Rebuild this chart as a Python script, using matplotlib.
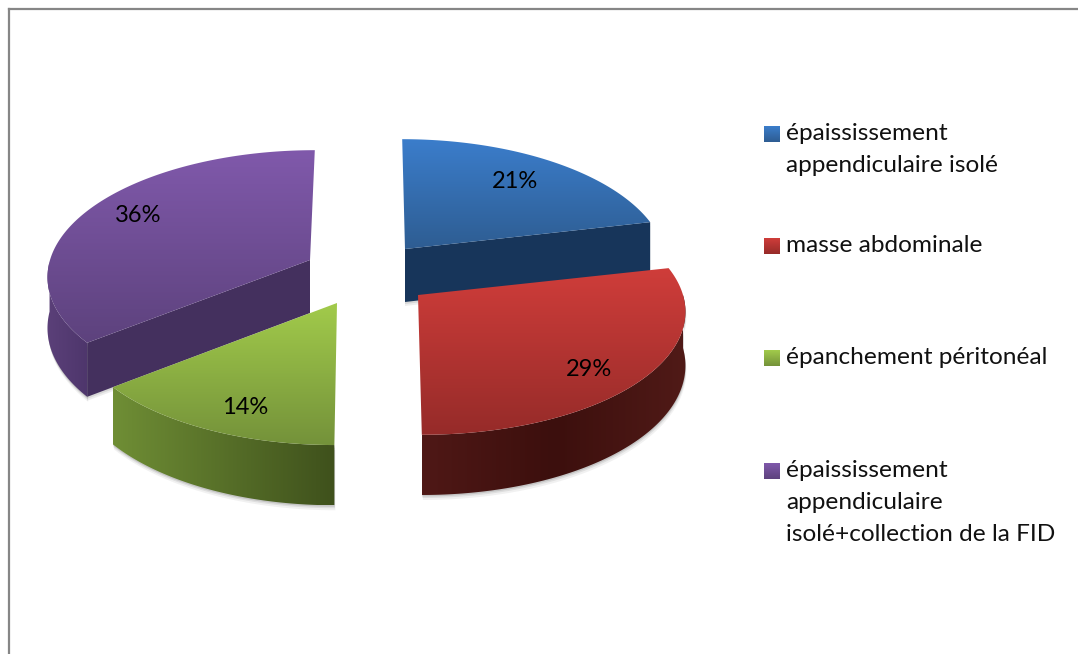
import numpy as np
import matplotlib
matplotlib.use("Agg")
import matplotlib.pyplot as plt
from matplotlib.colors import LinearSegmentedColormap
from matplotlib.patches import Polygon

# data
labels = ["épaississement\nappendiculaire isolé", "masse abdominale",
          "épanchement péritonéal", "épaississement\nappendiculaire\nisolé+collection de la FID"]
values = [21.4, 28.6, 14.3, 35.7]

# slice placement, in pixels (exploded pie)
centers = [(405, 249), (418, 295), (337, 303), (310, 260)]
radii = [(259, 123), (265, 123), (263, 125), (260, 123)]
depths = [53, 53, 53, 50]
pct_pos = [(515, 181), (589, 369), (245, 407), (138, 215)]
legend_y = [134, 246, 358, 471]
top_colors = [("#3b7dcb", "#2e5d92"), ("#cf3d3a", "#962b29"), ("#a2cb4b", "#74923a"), ("#8059ab", "#5d427d")]
rim_colors = [("#17355a", "#17355a"), ("#4f1816", "#3c0f0d", "#501a17"), ("#6f8e35", "#3f511c"), ("#5b4079", "#4e366c")]
cut_colors = ["#17355a", "#4a1614", "#4c6224", "#44305e"]

PERSP, APEX_DEPTH, MID_X = 0.12, 53, 370
FONT = ["Lato", "DejaVu Sans"]


def project(i, ang):
    # clockwise from 12 o'clock, near side drawn larger
    cx, cy = centers[i]
    rx, ry = radii[i]
    X, Y = np.sin(ang), -np.cos(ang)
    f = 1 / (1 - PERSP * Y)
    x = cx + rx * X * f + (cx - MID_X) * 0.08 * Y
    y = cy + ry * Y * f
    return x, y, depths[i] * f


def grad_fill(ax, pts, colors, vertical=True, z=2):
    pts = np.asarray(pts)
    patch = Polygon(pts, closed=True, fc="none", ec="none", zorder=z)
    ax.add_patch(patch)
    cmap = LinearSegmentedColormap.from_list("g", colors)
    ramp = np.linspace(0, 1, 128)
    ramp = ramp[:, None] if vertical else ramp[None, :]
    ext = [pts[:, 0].min(), pts[:, 0].max(), pts[:, 1].max(), pts[:, 1].min()]
    im = ax.imshow(ramp, cmap=cmap, extent=ext, aspect="auto", origin="upper", zorder=z, interpolation="bilinear")
    im.set_clip_path(patch)


fig = plt.figure(figsize=(10.78, 6.54), dpi=100)
ax = fig.add_axes([0, 0, 1, 1])

# cumulative angles from the shares
edges = np.radians(np.cumsum([0] + values) / sum(values) * 360)
order = [3, 2, 0, 1]  # back to front as in the picture

for n, i in enumerate(order):
    z = 2 + n * 2
    cx, cy = centers[i]
    a = np.linspace(edges[i], edges[i + 1], 120)
    x, y, d = project(i, a)
    top = np.column_stack([np.r_[cx, x], np.r_[cy, y]])

    # soft shadow round the solid
    vis = (a > np.pi / 2) & (a < 3 * np.pi / 2)
    if vis.any():
        xv, yv, dv = x[vis], y[vis], d[vis]
        body = np.column_stack([np.r_[xv, xv[::-1]], np.r_[yv, (yv + dv)[::-1]]])
        for off, al in [(5, 0.08), (3, 0.12), (1.5, 0.18)]:
            ax.add_patch(Polygon(body + [off * 0.2, off], fc="#555555", ec="none", alpha=al, zorder=z))

    # cut face toward the viewer
    if i == 0 or i == 3:
        ang = edges[i + 1] if i == 0 else edges[i]
        ex, ey, ed = project(i, ang)
        face = [(cx, cy), (ex, ey), (ex, ey + ed), (cx, cy + APEX_DEPTH)]
        for off, al in [(4, 0.1), (2, 0.15)]:
            ax.add_patch(Polygon(np.array(face) + [0, off], fc="#555555", ec="none", alpha=al, zorder=z))
        ax.add_patch(Polygon(face, fc=cut_colors[i], ec="none", zorder=z))

    # outer rim
    if vis.any():
        grad_fill(ax, body, rim_colors[i], vertical=False, z=z)

    # top face
    grad_fill(ax, top, top_colors[i], vertical=True, z=z + 1)
    px, py = pct_pos[i]
    ax.text(px, py, f"{round(values[i])}%", ha="center", va="center", fontsize=17, family=FONT,
            color="black", zorder=30)

# legend
for i, lab in enumerate(labels):
    sy = legend_y[i]
    grad_fill(ax, [(764, sy - 8), (780, sy - 8), (780, sy + 8), (764, sy + 8)], top_colors[i], z=20)
    ax.text(786, sy - 11, lab, ha="left", va="top", fontsize=17.6, family=FONT, color="#111111",
            linespacing=1.66, zorder=30)

# chart frame, only top and left show
ax.plot([8.5, 1078], [8.5, 8.5], color="#868686", lw=1.6, zorder=40)
ax.plot([8.5, 8.5], [8.5, 654], color="#868686", lw=1.6, zorder=40)

ax.set_xlim(0, 1078)
ax.set_ylim(654, 0)
ax.axis("off")
fig.savefig("out.png", dpi=100, facecolor="white")
